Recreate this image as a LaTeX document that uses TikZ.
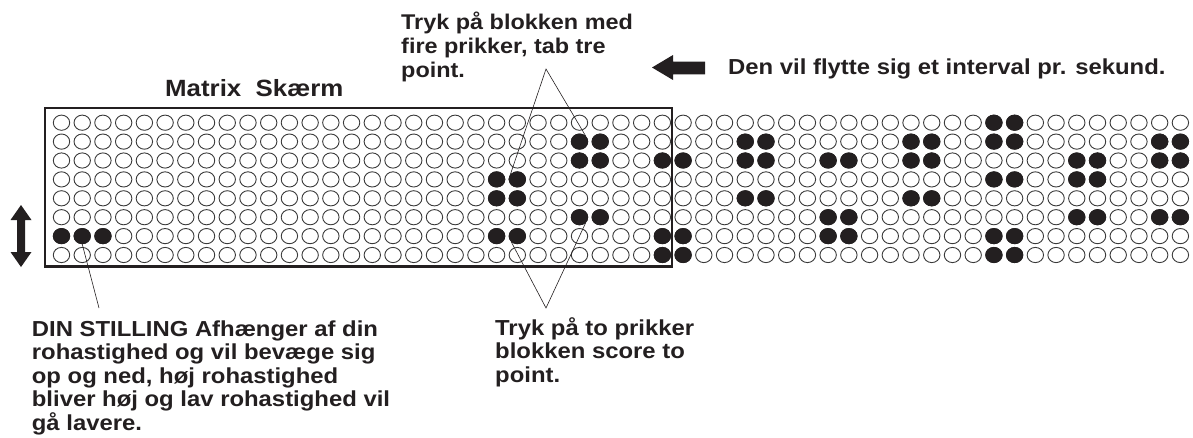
\documentclass[tikz,border=0pt]{standalone}
\usepackage{fontspec}
\setmainfont{Liberation Sans}[FakeStretch=1.1]
\usepackage{tikz}
\usetikzlibrary{shapes.geometric}
\definecolor{ink}{HTML}{231F20}
\definecolor{rim}{HTML}{3A3A3A}

\begin{document}
\begin{tikzpicture}[x=1pt,y=-1pt,
  dot/.style={ellipse,draw=rim,line width=0.9pt,fill=white,minimum width=16.4pt,minimum height=15.2pt,inner sep=0pt},
  full/.style={dot,draw=ink,fill=ink},
  note/.style={font=\bfseries\fontsize{21.7}{23.5}\selectfont,color=ink,align=left,anchor=base west,inner sep=0pt},
  frame/.style={draw=ink,line width=2.7pt,minimum width=627pt,minimum height=158.7pt,inner sep=0pt},
  leader/.style={draw=ink,line width=0.6pt}]
\useasboundingbox (0,0) rectangle (1193,437);
\node[frame] (skaerm) at (358.5,187.35) {};
\foreach \r in {0,...,7}
  \foreach \c in {0,...,54}
    \node[dot] (d\r-\c) at (61.5+20.72*\c,122.7+18.9*\r) {};
\foreach \r/\c in {0/45,0/46,
    1/25,1/26,1/33,1/34,1/41,1/42,1/45,1/46,1/53,1/54,
    2/25,2/26,2/29,2/30,2/33,2/34,2/37,2/38,2/41,2/42,2/49,2/50,2/53,2/54,
    3/21,3/22,3/45,3/46,3/49,3/50,
    4/21,4/22,4/33,4/34,4/41,4/42,
    5/25,5/26,5/37,5/38,5/49,5/50,5/53,5/54,
    6/0,6/1,6/2,6/21,6/22,6/29,6/30,6/37,6/38,6/45,6/46,
    7/29,7/30,7/45,7/46}
  \node[full] at (d\r-\c) {};
% base = last line of each note
\node[note,font=\bfseries\fontsize{23.5}{26}\selectfont] (title) at (165,96.7) {Matrix\ \ Skærm};
\node[note,font=\bfseries\fontsize{21.3}{24}\selectfont] (fourdots) at (401,77) {Tryk på blokken med\\fire prikker, tab tre\\point.};
\node[note] (speed) at (728,74.3) {Den vil flytte sig et interval pr. sekund.};
\node[note] (stilling) at (31.7,430) {DIN STILLING Afhænger af din\\rohastighed og vil bevæge sig\\op og ned, høj rohastighed\\bliver høj og lav rohastighed vil\\gå lavere.};
\node[note] (twodots) at (495,382) {Tryk på to prikker\\blokken score to\\point.};
\coordinate (topapex) at (546,69);
\coordinate (lowapex) at (546,308);
\coordinate (stillend) at (99,308);
\draw[leader] (d3-22.west) -- (topapex) -- (d1-25.north east);
\draw[leader] (d6-22.south west) -- (lowapex) -- (d5-25.south east);
\draw[leader] (d6-1.south) -- (stillend);
\fill[ink] (705,61.7) -- (673,61.7) -- (673,55) -- (652,67.5) -- (673,80) -- (673,74.3) -- (705,74.3) -- cycle;
\fill[ink] (21,205) -- (31.5,220) -- (25,220) -- (25,252) -- (31.5,252) -- (21,267) -- (10.5,252) -- (17,252) -- (17,220) -- (10.5,220) -- cycle;
\end{tikzpicture}
\end{document}
